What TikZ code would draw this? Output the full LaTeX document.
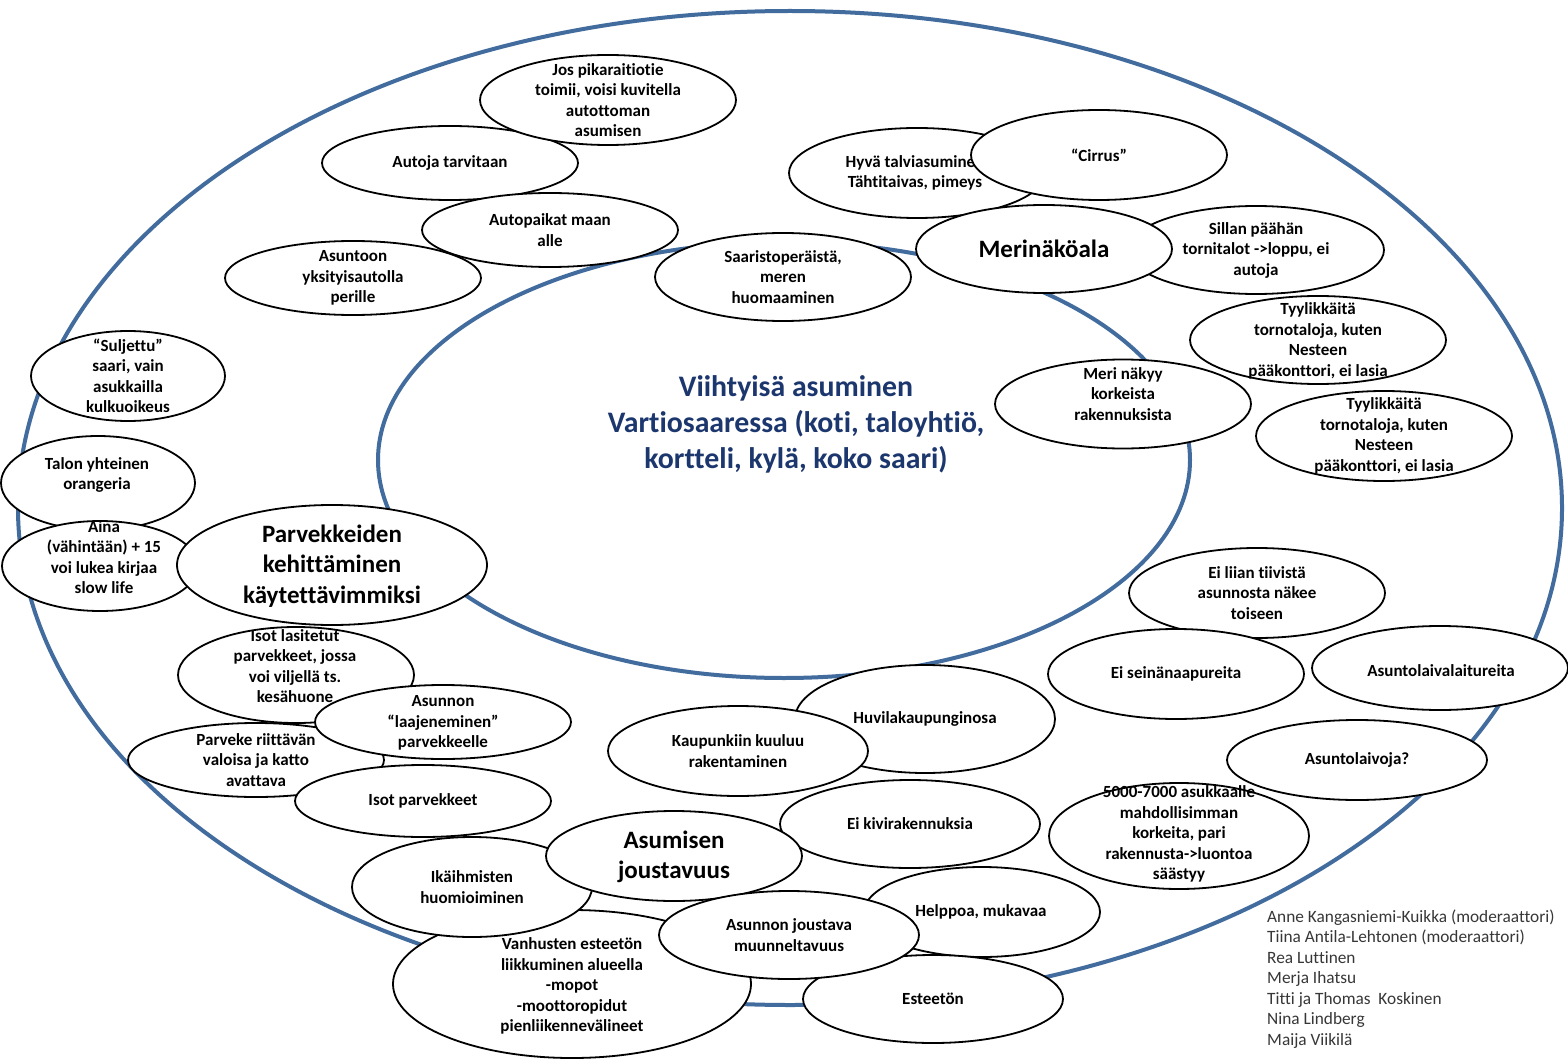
\documentclass[tikz,border=0pt]{standalone}
\usepackage{fontspec}
\setmainfont{Carlito}[Ligatures=NoCommon]
\usetikzlibrary{shapes.geometric}
\definecolor{ringblue}{RGB}{66,108,158}
\definecolor{titleblue}{RGB}{28,54,110}
\definecolor{namegray}{RGB}{55,55,55}
\tikzset{
  bub/.style={ellipse, draw=black, line width=1.8pt, fill=white, inner sep=0pt},
  btxt/.style={align=center, font=\bfseries\fontsize{17}{20.5}\selectfont, inner sep=0pt},
  big/.style={font=\bfseries\fontsize{25}{30.5}\selectfont},
  ring/.style={draw=ringblue, line width=4pt},
  titletxt/.style={align=center, text=titleblue, font=\bfseries\fontsize{29.8}{36}\selectfont, inner sep=0pt},
  namestxt/.style={align=left, text=namegray, font=\fontsize{17.3}{20.5}\selectfont, inner sep=0pt},
}
\newcommand\bubble[7][]{%
  \node[bub, minimum width=#4, minimum height=#5] (#2) at (#3) {};
  \node[btxt,#1] (#2-t) at (#6) {#7};}
\begin{document}
\begin{tikzpicture}[x=1pt,y=-1pt]
\fill[white] (0,0) rectangle (1568,1059);
\useasboundingbox (0,0) rectangle (1568,1059);
% rings
\draw[ring] (790,508) ellipse [x radius=772pt, y radius=497pt];
\draw[ring] (784,460) ellipse [x radius=406pt, y radius=218pt];
\node[titletxt] (title) at (796,424) {Viihtyisä asuminen\\Vartiosaaressa (koti, taloyhtiö,\\kortteli, kylä, koko saari)};
% top left
\bubble{autoja}{450,163}{256pt}{74pt}{450,163}{Autoja tarvitaan}
\bubble{jos}{608,100}{256pt}{90pt}{608,100}{Jos pikaraitiotie\\toimii, voisi kuvitella\\autottoman\\asumisen}
\bubble{autopaikat}{550,230}{256pt}{74pt}{550,230}{Autopaikat maan\\alle}
\bubble{asuntoon}{353,278}{256pt}{74pt}{353,278}{Asuntoon\\yksityisautolla\\perille}
\bubble{saaristo}{783,277}{256pt}{88pt}{783,277}{Saaristoperäistä,\\meren\\huomaaminen}
% top right
\bubble{hyva}{917,173}{256pt}{90pt}{915,173}{Hyvä talviasuminen\\Tähtitaivas, pimeys}
\bubble{cirrus}{1099,155}{256pt}{90pt}{1099,155}{“Cirrus”}
\bubble{sillan}{1256,250}{256pt}{88pt}{1256,250}{Sillan päähän\\tornitalot ->loppu, ei\\autoja}
\bubble[big]{meri}{1044,249}{256pt}{88pt}{1044,249}{Merinäköala}
\bubble{tyyA}{1318,340}{256pt}{88pt}{1318,341}{Tyylikkäitä\\tornotaloja, kuten\\Nesteen\\pääkonttori, ei lasia}
\bubble{merinakyy}{1123,404}{256pt}{89pt}{1123,394}{Meri näkyy\\korkeista\\rakennuksista}
\bubble{tyyB}{1384,436}{256pt}{90pt}{1384,436}{Tyylikkäitä\\tornotaloja, kuten\\Nesteen\\pääkonttori, ei lasia}
% left
\bubble{suljettu}{128,376}{194pt}{90pt}{128,376}{“Suljettu”\\saari, vain\\asukkailla\\kulkuoikeus}
\bubble{talon}{98,483}{194pt}{94pt}{97,475}{Talon yhteinen\\orangeria}
\bubble{aina}{100,566}{196pt}{90pt}{104,557}{Aina\\(vähintään) + 15\\voi lukea kirjaa\\slow life}
\bubble[big]{parv}{332,565}{310pt}{120pt}{332,566}{Parvekkeiden\\kehittäminen\\käytettävimmiksi}
\bubble{lasitetut}{296,675}{236pt}{96pt}{295,666}{Isot lasitetut\\parvekkeet, jossa\\voi viljellä ts.\\kesähuone}
\bubble{parveke}{256,760}{256pt}{74pt}{256,760}{Parveke riittävän\\valoisa ja katto\\avattava}
\bubble{laaj}{443,722}{256pt}{74pt}{443,723}{Asunnon\\“laajeneminen”\\parvekkeelle}
\bubble{isot}{423,801}{256pt}{72pt}{423,801}{Isot parvekkeet}
% middle
\bubble{huvila}{925,719}{260pt}{108pt}{925,719}{Huvilakaupunginosa}
\bubble{kaupunki}{738,751}{260pt}{90pt}{738,751}{Kaupunkiin kuuluu\\rakentaminen}
% right
\bubble{tiivis}{1257,593}{256pt}{90pt}{1257,593}{Ei liian tiivistä\\asunnosta näkee\\toiseen}
\bubble{seina}{1176,674}{256pt}{90pt}{1176,674}{Ei seinänaapureita}
\bubble{laiturit}{1440,668}{256pt}{84pt}{1441,671}{Asuntolaivalaitureita}
\bubble{laivoja}{1357,760}{260pt}{80pt}{1357,760}{Asuntolaivoja?}
\bubble{asukkaat}{1179,836}{260pt}{106pt}{1179,834}{5000-7000 asukkaalle\\mahdollisimman\\korkeita, pari\\rakennusta->luontoa\\säästyy}
\bubble{kivi}{910,824}{260pt}{88pt}{910,824}{Ei kivirakennuksia}
% bottom
\bubble{vanhus}{572,984}{358pt}{148pt}{572,986}{Vanhusten esteetön\\liikkuminen alueella\\-mopot\\-moottoropidut\\pienliikennevälineet}
\bubble{ika}{472,887}{240pt}{100pt}{472,887}{Ikäihmisten\\huomioiminen}
\bubble[big]{jousto}{674,856}{256pt}{90pt}{674,857}{Asumisen\\joustavuus}
\bubble{helppo}{982,912}{236pt}{90pt}{981,912}{Helppoa, mukavaa}
\bubble{esteeton}{933,999}{260pt}{88pt}{933,999}{Esteetön}
\bubble{muunnel}{789,935}{260pt}{88pt}{789,935}{Asunnon joustava\\muunneltavuus}
% names
\node[namestxt, anchor=west] (names) at (1267,979) {Anne Kangasniemi-Kuikka (moderaattori)\\Tiina Antila-Lehtonen (moderaattori)\\Rea Luttinen\\Merja Ihatsu\\Titti ja Thomas~~Koskinen\\Nina Lindberg\\Maija Viikilä};
\end{tikzpicture}
\end{document}
